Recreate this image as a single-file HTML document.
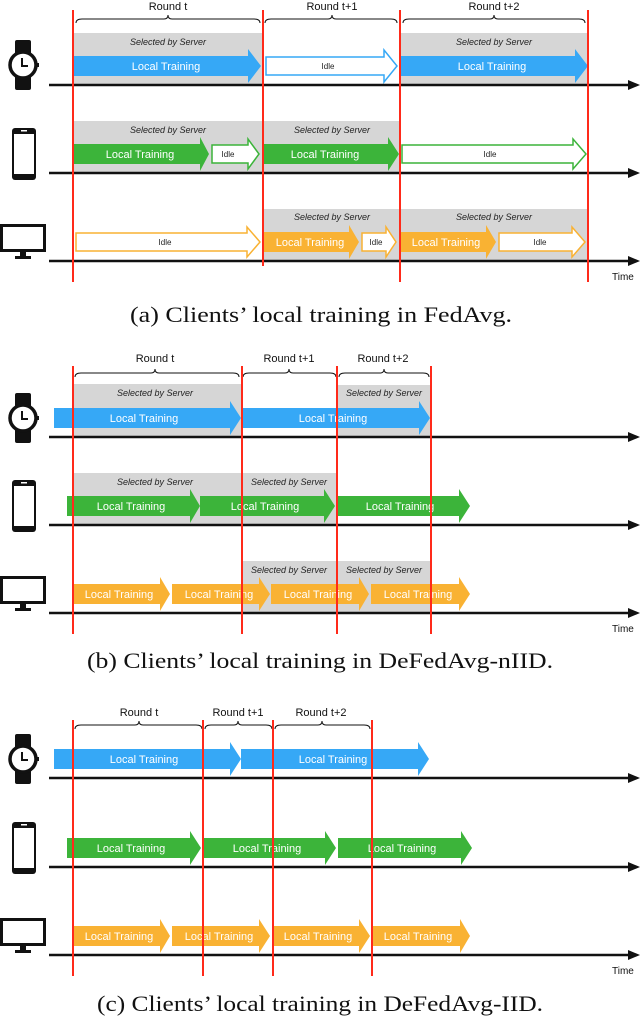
<!DOCTYPE html>
<html><head><meta charset="utf-8"><style>
html,body{margin:0;padding:0;background:#fff;}
svg{display:block;}
.r{font-family:"Liberation Sans",sans-serif;font-size:11px;fill:#111;text-anchor:middle;}
.s{font-family:"Liberation Sans",sans-serif;font-size:9px;font-style:italic;fill:#222;text-anchor:middle;}
.w{font-family:"Liberation Sans",sans-serif;font-size:11px;fill:#fff;text-anchor:middle;}
.i{font-family:"Liberation Sans",sans-serif;font-size:8px;fill:#222;text-anchor:middle;}
.c{font-family:"Liberation Serif",serif;font-size:22px;fill:#111;text-anchor:middle;}
.t{font-family:"Liberation Sans",sans-serif;font-size:10px;fill:#111;}
</style></head><body>
<svg width="640" height="1022" viewBox="0 0 640 1022" xmlns="http://www.w3.org/2000/svg">
<defs>
<g id="watch"><rect x="-8" y="-25" width="16" height="50" rx="2" fill="#111"/><circle cx="0" cy="0" r="13" fill="#fff" stroke="#111" stroke-width="3.5"/><rect x="13" y="-2" width="3" height="4" fill="#111"/><path d="M-1,-7 V1 H5" fill="none" stroke="#111" stroke-width="2"/></g>
<g id="phone"><rect x="-12" y="-26" width="24" height="52" rx="3" fill="#111"/><rect x="-10" y="-20" width="20" height="40" fill="#fff"/><rect x="-3" y="-24" width="6" height="1.5" fill="#fff"/></g>
<g id="mon"><rect x="-23" y="-17" width="46" height="28" fill="#111"/><rect x="-20" y="-14" width="40" height="22" fill="#fff"/><rect x="-3" y="11" width="6" height="5" fill="#111"/><rect x="-8" y="15" width="16" height="3" fill="#111"/></g>
</defs>

<!-- ============ PANEL A ============ -->
<text class="r" x="168" y="10">Round t</text>
<text class="r" x="332" y="10">Round t+1</text>
<text class="r" x="494" y="10">Round t+2</text>
<g fill="none" stroke="#111" stroke-width="1">
<path d="M76,23 Q76,19 82,19 L164,19 Q168,19 168,15 Q168,19 172,19 L254,19 Q260,19 260,23"/>
<path d="M265,23 Q265,19 271,19 L328,19 Q332,19 332,15 Q332,19 336,19 L391,19 Q397,19 397,23"/>
<path d="M403,23 Q403,19 409,19 L490,19 Q494,19 494,15 Q494,19 498,19 L579,19 Q585,19 585,23"/>
</g>
<g fill="#d6d6d6">
<rect x="74" y="33" width="188" height="51"/><rect x="401" y="33" width="187" height="51"/>
<rect x="74" y="121" width="188" height="51"/><rect x="264" y="121" width="135" height="51"/>
<rect x="264" y="209" width="135" height="51"/><rect x="401" y="209" width="187" height="51"/>
</g>
<text class="s" x="168" y="45">Selected by Server</text>
<text class="s" x="494" y="45">Selected by Server</text>
<text class="s" x="168" y="133">Selected by Server</text>
<text class="s" x="332" y="133">Selected by Server</text>
<text class="s" x="332" y="220">Selected by Server</text>
<text class="s" x="494" y="220">Selected by Server</text>
<polygon fill="#36a8f6" points="74,56 248,56 248,49 261,66 248,83 248,76 74,76"/>
<text class="w" x="166" y="70">Local Training</text>
<polygon fill="#fff" stroke="#36a8f6" stroke-width="1.5" points="266,57 384,57 384,50 397,66 384,82 384,75 266,75"/>
<text class="i" x="328" y="69">Idle</text>
<polygon fill="#36a8f6" points="401,56 575,56 575,49 588,66 575,83 575,76 401,76"/>
<text class="w" x="492" y="70">Local Training</text>
<polygon fill="#3cb43a" points="74,144 200,144 200,137 209,154 200,171 200,164 74,164"/>
<text class="w" x="140" y="158">Local Training</text>
<polygon fill="#fff" stroke="#3cb43a" stroke-width="1.5" points="212,145 248,145 248,139 259,154 248,169 248,163 212,163"/>
<text class="i" x="228" y="157">Idle</text>
<polygon fill="#3cb43a" points="264,144 388,144 388,137 399,154 388,171 388,164 264,164"/>
<text class="w" x="325" y="158">Local Training</text>
<polygon fill="#fff" stroke="#3cb43a" stroke-width="1.5" points="402,145 573,145 573,139 586,154 573,169 573,163 402,163"/>
<text class="i" x="490" y="157">Idle</text>
<polygon fill="#fff" stroke="#f9b233" stroke-width="1.5" points="76,233 247,233 247,227 260,242 247,257 247,251 76,251"/>
<text class="i" x="165" y="245">Idle</text>
<polygon fill="#f9b233" points="264,232 349,232 349,225 359,242 349,259 349,252 264,252"/>
<text class="w" x="310" y="246">Local Training</text>
<polygon fill="#fff" stroke="#f9b233" stroke-width="1.5" points="362,233 386,233 386,227 396,242 386,257 386,251 362,251"/>
<text class="i" x="376" y="245">Idle</text>
<polygon fill="#f9b233" points="401,232 486,232 486,225 496,242 486,259 486,252 401,252"/>
<text class="w" x="446" y="246">Local Training</text>
<polygon fill="#fff" stroke="#f9b233" stroke-width="1.5" points="499,233 572,233 572,227 585,242 572,257 572,251 499,251"/>
<text class="i" x="540" y="245">Idle</text>
<g stroke="#111" stroke-width="2.5"><line x1="49" y1="85" x2="630" y2="85"/><line x1="49" y1="173" x2="630" y2="173"/><line x1="49" y1="261" x2="630" y2="261"/></g>
<g fill="#111"><polygon points="628,80 640,85 628,90"/><polygon points="628,168 640,173 628,178"/><polygon points="628,256 640,261 628,266"/></g>
<g stroke="#ff2a1a" stroke-width="2"><line x1="73" y1="10" x2="73" y2="282"/><line x1="263" y1="10" x2="263" y2="266"/><line x1="400" y1="10" x2="400" y2="282"/><line x1="588" y1="10" x2="588" y2="282"/></g>
<text class="t" x="612" y="280">Time</text>
<use href="#watch" x="23" y="65"/><use href="#phone" x="24" y="154"/><use href="#mon" x="23" y="241"/>
<text class="c" x="321" y="322" textLength="382" lengthAdjust="spacingAndGlyphs">(a) Clients’ local training in FedAvg.</text>

<!-- ============ PANEL B ============ -->
<text class="r" x="155" y="362">Round t</text>
<text class="r" x="289" y="362">Round t+1</text>
<text class="r" x="383" y="362">Round t+2</text>
<g fill="none" stroke="#111" stroke-width="1">
<path d="M75,377 Q75,373 81,373 L151,373 Q155,373 155,369 Q155,373 159,373 L233,373 Q239,373 239,377"/>
<path d="M243,377 Q243,373 249,373 L285,373 Q289,373 289,369 Q289,373 293,373 L330,373 Q336,373 336,377"/>
<path d="M339,377 Q339,373 345,373 L380,373 Q384,373 384,369 Q384,373 388,373 L423,373 Q429,373 429,377"/>
</g>
<g fill="#d6d6d6">
<rect x="74" y="384" width="167" height="52"/><rect x="338" y="385" width="92" height="51"/>
<rect x="74" y="473" width="262" height="51"/>
<rect x="242" y="561" width="188" height="51"/>
</g>
<text class="s" x="155" y="396">Selected by Server</text>
<text class="s" x="384" y="396">Selected by Server</text>
<text class="s" x="155" y="485">Selected by Server</text>
<text class="s" x="289" y="485">Selected by Server</text>
<text class="s" x="289" y="573">Selected by Server</text>
<text class="s" x="384" y="573">Selected by Server</text>
<polygon fill="#36a8f6" points="54,408 230,408 230,401 241,418 230,435 230,428 54,428"/>
<text class="w" x="144" y="422">Local Training</text>
<polygon fill="#36a8f6" points="241,408 419,408 419,401 430,418 419,435 419,428 241,428"/>
<text class="w" x="333" y="422">Local Training</text>
<polygon fill="#3cb43a" points="67,496 190,496 190,489 200,506 190,523 190,516 67,516"/>
<text class="w" x="131" y="510">Local Training</text>
<polygon fill="#3cb43a" points="200,496 324,496 324,489 335,506 324,523 324,516 200,516"/>
<text class="w" x="265" y="510">Local Training</text>
<polygon fill="#3cb43a" points="336,496 459,496 459,489 470,506 459,523 459,516 336,516"/>
<text class="w" x="400" y="510">Local Training</text>
<polygon fill="#f9b233" points="72,584 160,584 160,577 170,594 160,611 160,604 72,604"/>
<text class="w" x="119" y="598">Local Training</text>
<polygon fill="#f9b233" points="172,584 259,584 259,577 270,594 259,611 259,604 172,604"/>
<text class="w" x="219" y="598">Local Training</text>
<polygon fill="#f9b233" points="271,584 359,584 359,577 369,594 359,611 359,604 271,604"/>
<text class="w" x="318" y="598">Local Training</text>
<polygon fill="#f9b233" points="371,584 459,584 459,577 470,594 459,611 459,604 371,604"/>
<text class="w" x="418" y="598">Local Training</text>
<g stroke="#111" stroke-width="2.5"><line x1="49" y1="437" x2="630" y2="437"/><line x1="49" y1="525" x2="630" y2="525"/><line x1="49" y1="613" x2="630" y2="613"/></g>
<g fill="#111"><polygon points="628,432 640,437 628,442"/><polygon points="628,520 640,525 628,530"/><polygon points="628,608 640,613 628,618"/></g>
<g stroke="#ff2a1a" stroke-width="2"><line x1="73" y1="366" x2="73" y2="634"/><line x1="242" y1="366" x2="242" y2="634"/><line x1="337" y1="366" x2="337" y2="634"/><line x1="431" y1="366" x2="431" y2="634"/></g>
<text class="t" x="612" y="632">Time</text>
<use href="#watch" x="23" y="418"/><use href="#phone" x="24" y="506"/><use href="#mon" x="23" y="593"/>
<text class="c" x="320" y="668" textLength="466" lengthAdjust="spacingAndGlyphs">(b) Clients’ local training in DeFedAvg-nIID.</text>

<!-- ============ PANEL C ============ -->
<text class="r" x="139" y="716">Round t</text>
<text class="r" x="238" y="716">Round t+1</text>
<text class="r" x="321" y="716">Round t+2</text>
<g fill="none" stroke="#111" stroke-width="1">
<path d="M75,729 Q75,725 81,725 L135,725 Q139,725 139,721 Q139,725 143,725 L196,725 Q202,725 202,729"/>
<path d="M205,729 Q205,725 211,725 L234,725 Q238,725 238,721 Q238,725 242,725 L266,725 Q272,725 272,729"/>
<path d="M275,729 Q275,725 281,725 L318,725 Q322,725 322,721 Q322,725 326,725 L364,725 Q370,725 370,729"/>
</g>
<polygon fill="#36a8f6" points="54,749 230,749 230,742 241,759 230,776 230,769 54,769"/>
<text class="w" x="144" y="763">Local Training</text>
<polygon fill="#36a8f6" points="241,749 418,749 418,742 429,759 418,776 418,769 241,769"/>
<text class="w" x="333" y="763">Local Training</text>
<polygon fill="#3cb43a" points="67,838 190,838 190,831 201,848 190,865 190,858 67,858"/>
<text class="w" x="131" y="852">Local Training</text>
<polygon fill="#3cb43a" points="203,838 325,838 325,831 336,848 325,865 325,858 203,858"/>
<text class="w" x="267" y="852">Local Training</text>
<polygon fill="#3cb43a" points="338,838 461,838 461,831 472,848 461,865 461,858 338,858"/>
<text class="w" x="402" y="852">Local Training</text>
<polygon fill="#f9b233" points="72,926 160,926 160,919 170,936 160,953 160,946 72,946"/>
<text class="w" x="119" y="940">Local Training</text>
<polygon fill="#f9b233" points="172,926 259,926 259,919 270,936 259,953 259,946 172,946"/>
<text class="w" x="219" y="940">Local Training</text>
<polygon fill="#f9b233" points="272,926 359,926 359,919 370,936 359,953 359,946 272,946"/>
<text class="w" x="318" y="940">Local Training</text>
<polygon fill="#f9b233" points="372,926 460,926 460,919 470,936 460,953 460,946 372,946"/>
<text class="w" x="418" y="940">Local Training</text>
<g stroke="#111" stroke-width="2.5"><line x1="49" y1="778" x2="630" y2="778"/><line x1="49" y1="867" x2="630" y2="867"/><line x1="49" y1="955" x2="630" y2="955"/></g>
<g fill="#111"><polygon points="628,773 640,778 628,783"/><polygon points="628,862 640,867 628,872"/><polygon points="628,950 640,955 628,960"/></g>
<g stroke="#ff2a1a" stroke-width="2"><line x1="73" y1="720" x2="73" y2="976"/><line x1="203" y1="720" x2="203" y2="976"/><line x1="273" y1="720" x2="273" y2="976"/><line x1="372" y1="720" x2="372" y2="976"/></g>
<text class="t" x="612" y="974">Time</text>
<use href="#watch" x="23" y="759"/><use href="#phone" x="24" y="848"/><use href="#mon" x="23" y="935"/>
<text class="c" x="320" y="1011" textLength="446" lengthAdjust="spacingAndGlyphs">(c) Clients’ local training in DeFedAvg-IID.</text>
</svg>
</body></html>
